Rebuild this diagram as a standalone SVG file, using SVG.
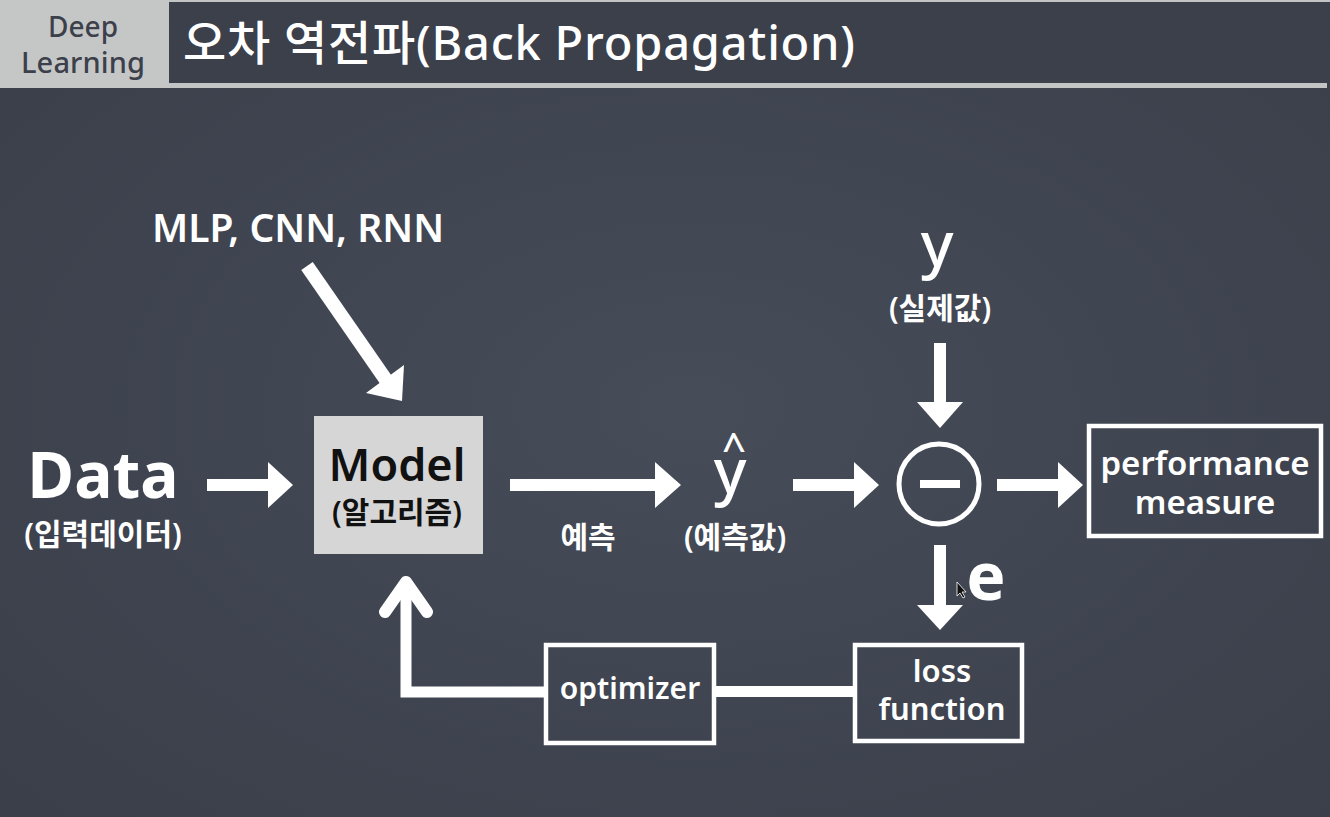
<svg xmlns="http://www.w3.org/2000/svg" width="1330" height="817" viewBox="0 0 1330 817">
  <defs>
    <radialGradient id="bg" cx="0.52" cy="0.5" r="0.7">
      <stop offset="0" stop-color="#464c58"/>
      <stop offset="1" stop-color="#3a3f4a"/>
    </radialGradient>
    <style>
      .t { font-family: "Noto Sans", "Noto Sans CJK KR", sans-serif; fill: #ffffff; text-anchor: middle; }
      .w5 { font-weight: 500; }
      .w6 { font-weight: 600; }
      .w7 { font-weight: 700; }
      .dark { fill: #111111; }
      .shaft { stroke: #ffffff; stroke-width: 12; fill: none; }
      .head { fill: #ffffff; }
      .box { fill: none; stroke: #ffffff; stroke-width: 4.5; }
    </style>
  </defs>

  <rect x="0" y="0" width="1330" height="817" fill="url(#bg)"/>

  <g id="header">
    <rect x="0" y="0" width="1330" height="2" fill="#c3c5c4"/>
    <rect x="170" y="2" width="1157" height="81" fill="#3b404b"/>
    <rect x="166" y="83" width="1161" height="5" fill="#c3c5c4"/>
    <rect x="0" y="0" width="169" height="88" fill="#c5c7c6"/>
    <text class="t w5" x="83" y="37" font-size="28" textLength="70" style="fill:#3b404b">Deep</text>
    <text class="t w5" x="83" y="73" font-size="29" textLength="124" style="fill:#3b404b">Learning</text>
    <text class="t w5" x="183" y="60" font-size="47" textLength="672" style="text-anchor:start">오차 역전파(Back Propagation)</text>
  </g>

  <g id="connectors">
    <!-- MLP -> Model diagonal -->
    <line class="shaft" x1="307" y1="266" x2="386" y2="380" style="stroke-width:14"/>
    <polygon class="head" points="402,401 366,393 404,365"/>
    <!-- Data -> Model -->
    <line class="shaft" x1="207" y1="485" x2="270" y2="485"/>
    <polygon class="head" points="268,462 293,485 268,508"/>
    <!-- Model -> y hat -->
    <line class="shaft" x1="510" y1="485" x2="658" y2="485"/>
    <polygon class="head" points="655,462 681,485 655,508"/>
    <!-- y hat -> minus -->
    <line class="shaft" x1="793" y1="485" x2="857" y2="485"/>
    <polygon class="head" points="854,462 879,485 854,508"/>
    <!-- minus -> performance -->
    <line class="shaft" x1="997" y1="485" x2="1060" y2="485"/>
    <polygon class="head" points="1058,462 1083,485 1058,508"/>
    <!-- y -> minus -->
    <line class="shaft" x1="940" y1="343" x2="940" y2="405"/>
    <polygon class="head" points="917,402 963,402 940,428"/>
    <!-- minus -> loss -->
    <line class="shaft" x1="940" y1="545" x2="940" y2="608"/>
    <polygon class="head" points="917,605 963,605 940,630"/>
    <!-- loss -> optimizer -->
    <line class="shaft" x1="716" y1="691.5" x2="855" y2="691.5" style="stroke-width:11"/>
    <!-- optimizer -> Model (feedback) -->
    <path d="M546,692 H406 V582" class="shaft" style="stroke-width:11"/>
    <path d="M385,612 L406,582 L427,612" class="shaft" style="stroke-width:12;stroke-linecap:round;stroke-linejoin:round"/>
  </g>

  <g id="mlp-label">
    <text class="t w6" x="298" y="242" font-size="39">MLP, CNN, RNN</text>
  </g>

  <g id="data">
    <text class="t w7" x="103" y="498" font-size="64">Data</text>
    <text class="t w6" x="103" y="545" font-size="30">(입력데이터)</text>
  </g>

  <g id="model">
    <rect x="314" y="416" width="169" height="138" fill="#d6d6d6"/>
    <text class="t dark w6" x="397" y="481" font-size="45">Model</text>
    <text class="t dark w6" x="397" y="523" font-size="30">(알고리즘)</text>
  </g>

  <g id="predict-label">
    <text class="t w6" x="588" y="548" font-size="30">예측</text>
  </g>

  <g id="yhat">
    <text class="t w5"><tspan x="734" y="463" font-size="42">^</tspan><tspan x="730" y="493" font-size="62">y</tspan></text>
    <text class="t w6" x="735" y="548" font-size="30">(예측값)</text>
  </g>

  <g id="y-actual">
    <text class="t w5" x="937" y="266" font-size="62">y</text>
    <text class="t w6" x="940" y="319" font-size="30">(실제값)</text>
  </g>

  <g id="minus">
    <circle cx="939" cy="484" r="40" fill="none" stroke="#ffffff" stroke-width="5"/>
    <rect x="920" y="480" width="40" height="8" fill="#ffffff"/>
  </g>

  <g id="e-label">
    <text class="t w7" x="986" y="600" font-size="66">e</text>
  </g>

  <g id="performance">
    <rect class="box" x="1089" y="426" width="232" height="110"/>
    <text class="t w6" font-size="33"><tspan x="1205" y="475">performance</tspan><tspan x="1205" y="514">measure</tspan></text>
  </g>

  <g id="loss">
    <rect class="box" x="855" y="645" width="167" height="96"/>
    <text class="t w6" font-size="31"><tspan x="942" y="682">loss</tspan><tspan x="942" y="720">function</tspan></text>
  </g>

  <g id="optimizer">
    <rect class="box" x="546" y="645" width="168" height="98"/>
    <text class="t w6" x="630" y="699" font-size="30">optimizer</text>
  </g>

  <g id="cursor">
    <polygon points="957,582 957,596 960,593 963,598 965,597 962,592 966,592" fill="#111111" stroke="#ffffff" stroke-width="0.8"/>
  </g>
</svg>
